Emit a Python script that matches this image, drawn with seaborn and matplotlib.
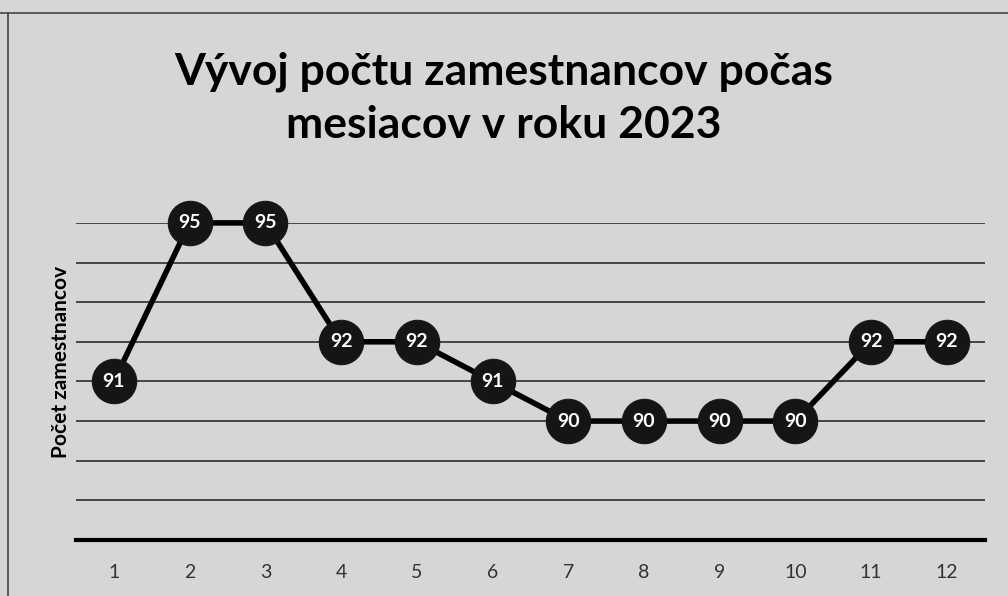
import matplotlib
matplotlib.use("Agg")
import matplotlib.pyplot as plt
import seaborn as sns
import pandas as pd

# data
months = [1, 2, 3, 4, 5, 6, 7, 8, 9, 10, 11, 12]
employees = [91, 95, 95, 92, 92, 91, 90, 90, 90, 90, 92, 92]

title = "Vývoj počtu zamestnancov počas\nmesiacov v roku 2023"
ylabel = "Počet zamestnancov"

sns.set_style("white")
plt.rcParams['font.family'] = ['Lato', 'DejaVu Sans']

df = pd.DataFrame({"mesiac": months, "pocet": employees})

bg = '#d6d6d6'
fig = plt.figure(figsize=(10.08, 5.96), dpi=100, facecolor=bg)
ax = fig.add_axes([0.0754, 0.094, 0.9016, 0.532])
ax.set_facecolor(bg)

# horizontal gridlines, one per unit
for v in range(88, 96):
    ax.axhline(v, color='#3a3a3a', lw=1.3, zorder=1)

sns.lineplot(data=df, x="mesiac", y="pocet", ax=ax, color='black', lw=4,
             marker='o', markersize=32, markerfacecolor='#151515',
             markeredgecolor='#151515', zorder=3, clip_on=False)

for m, v in zip(months, employees):
    ax.text(m, v, str(v), ha='center', va='center', color='white',
            fontsize=14, fontweight='bold', zorder=4)

ax.set_xlim(0.5, 12.5)
ax.set_ylim(87, 95)
ax.set_xticks(months)
ax.set_xticklabels([str(m) for m in months], fontsize=14, color='#333333')
ax.set_yticks([])
ax.tick_params(axis='x', length=0, pad=17)
for s in ['left', 'right', 'top']:
    ax.spines[s].set_visible(False)
ax.spines['bottom'].set_linewidth(3)
ax.spines['bottom'].set_color('black')
ax.set_xlabel("")
ax.set_ylabel(ylabel, fontsize=15, fontweight='bold', color='black')
ax.yaxis.set_label_coords(-0.005, 0.56)

fig.text(0.5, 0.835, title, ha='center', va='center', fontsize=32,
         fontweight='bold', linespacing=1.4, color='black')

# scan frame
fig.add_artist(plt.Line2D([0, 1], [0.978, 0.978], color='#444444', lw=1.2))
fig.add_artist(plt.Line2D([0.008, 0.008], [0, 0.978], color='#444444', lw=1.2))

fig.savefig("out.png", dpi=100, facecolor=bg)
